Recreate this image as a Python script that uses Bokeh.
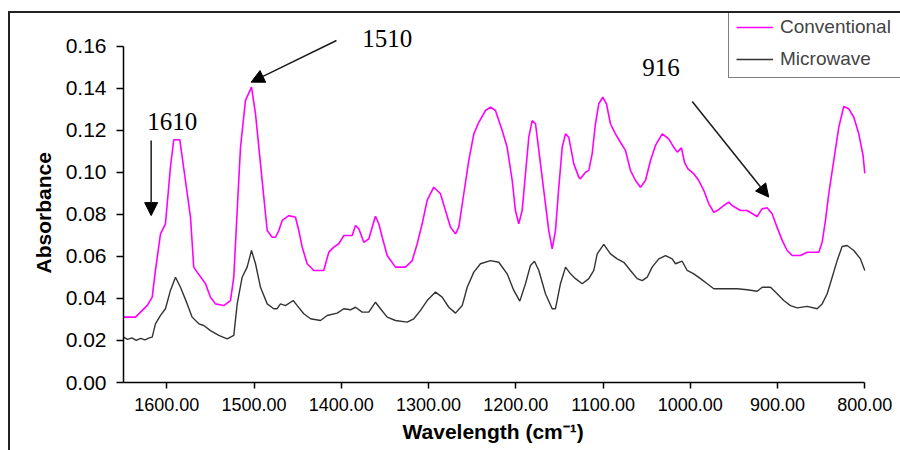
from bokeh.plotting import figure
from bokeh.models import (Range1d, NumeralTickFormatter, FixedTicker, Label, Arrow,
                          NormalHead, Title)
from bokeh.embed import file_html
from bokeh.resources import INLINE

# ---- data (wavenumber cm^-1, absorbance) ----
conv_wn = [1649.6, 1635.9, 1622.5, 1616.7, 1613.0, 1607.2, 1601.5, 1595.8, 1592.0, 1585.1,
           1578.6, 1572.8, 1569.1, 1565.2, 1555.6, 1549.9, 1544.2, 1534.7, 1527.0, 1523.2,
           1519.3, 1515.5, 1509.8, 1502.9, 1498.3, 1492.6, 1488.8, 1484.9, 1479.2, 1475.4,
           1471.6, 1467.7, 1460.2, 1452.5, 1448.7, 1444.8, 1439.1, 1431.5, 1420.1, 1414.3,
           1408.6, 1402.9, 1397.1, 1387.5, 1383.7, 1379.9, 1374.2, 1368.5, 1364.6, 1360.8,
           1357.0, 1353.1, 1347.4, 1337.9, 1326.4, 1318.7, 1313.0, 1307.3, 1301.6, 1294.0,
           1286.3, 1280.6, 1274.8, 1269.1, 1265.3, 1259.6, 1253.9, 1248.1, 1242.4, 1234.7,
           1229.0, 1223.3, 1215.6, 1209.9, 1204.1, 1200.4, 1196.6, 1192.7, 1188.9, 1185.1,
           1181.2, 1177.4, 1173.6, 1167.9, 1162.2, 1158.3, 1154.5, 1150.7, 1146.8, 1143.0,
           1139.3, 1133.5, 1127.8, 1125.9, 1120.1, 1116.3, 1112.5, 1108.7, 1104.9, 1100.3,
           1096.1, 1091.5, 1085.8, 1080.1, 1074.3, 1068.6, 1062.8, 1057.1, 1051.4, 1045.6,
           1039.9, 1032.2, 1024.7, 1018.9, 1015.0, 1010.1, 1006.7, 1002.9, 996.0, 990.3,
           984.5, 978.8, 973.1, 969.2, 961.6, 955.9, 952.1, 942.5, 934.9, 923.4,
           917.8, 912.0, 906.2, 900.6, 894.7, 889.0, 883.2, 873.7, 866.0, 860.3,
           852.7, 848.9, 845.1, 841.3, 835.6, 829.8, 824.1, 818.4, 812.6, 806.9,
           802.0, 800.0]
conv_abs = [0.0311, 0.0311, 0.0366, 0.0406, 0.0533, 0.0707, 0.0755, 0.1024, 0.1155, 0.1155,
            0.0961, 0.0786, 0.0549, 0.0525, 0.0470, 0.0406, 0.0374, 0.0366, 0.0390, 0.0501,
            0.0818, 0.1119, 0.1342, 0.1405, 0.1278, 0.1040, 0.0882, 0.0723, 0.0691, 0.0691,
            0.0723, 0.0771, 0.0794, 0.0786, 0.0723, 0.0644, 0.0565, 0.0533, 0.0533, 0.0620,
            0.0644, 0.0660, 0.0699, 0.0699, 0.0747, 0.0731, 0.0667, 0.0683, 0.0739, 0.0791,
            0.0755, 0.0691, 0.0604, 0.0549, 0.0549, 0.0580, 0.0660, 0.0755, 0.0866, 0.0929,
            0.0898, 0.0818, 0.0739, 0.0707, 0.0739, 0.0898, 0.1056, 0.1183, 0.1238, 0.1294,
            0.1310, 0.1294, 0.1199, 0.1119, 0.0961, 0.0818, 0.0755, 0.0818, 0.0993, 0.1167,
            0.1246, 0.1231, 0.1104, 0.0913, 0.0723, 0.0636, 0.0723, 0.0929, 0.1119, 0.1183,
            0.1167, 0.1040, 0.0977, 0.0969, 0.1000, 0.1009, 0.1088, 0.1231, 0.1326, 0.1357,
            0.1326, 0.1231, 0.1183, 0.1143, 0.1104, 0.1009, 0.0961, 0.0929, 0.0961, 0.1056,
            0.1128, 0.1183, 0.1159, 0.1119, 0.1096, 0.1116, 0.1048, 0.1017, 0.0993, 0.0961,
            0.0913, 0.0850, 0.0810, 0.0818, 0.0842, 0.0858, 0.0842, 0.0818, 0.0818, 0.0790,
            0.0826, 0.0831, 0.0803, 0.0739, 0.0676, 0.0628, 0.0604, 0.0604, 0.0620, 0.0620,
            0.0620, 0.0667, 0.0771, 0.0898, 0.1056, 0.1215, 0.1313, 0.1302, 0.1262, 0.1183,
            0.1080, 0.0995]

micro_wn = [1649.6, 1645.0, 1640.0, 1635.0, 1630.0, 1625.0, 1620.0, 1616.7, 1613.0, 1607.2,
            1601.5, 1595.8, 1590.0, 1584.3, 1576.6, 1570.9, 1563.3, 1557.6, 1549.9, 1540.4,
            1530.8, 1523.2, 1519.3, 1513.6, 1507.9, 1502.9, 1498.3, 1492.6, 1484.9, 1477.4,
            1473.5, 1469.7, 1464.0, 1455.1, 1450.5, 1443.0, 1435.3, 1423.8, 1416.2, 1404.7,
            1397.1, 1389.5, 1383.7, 1376.1, 1368.5, 1360.8, 1355.1, 1347.4, 1337.9, 1324.5,
            1316.9, 1309.2, 1301.6, 1292.0, 1284.4, 1276.8, 1269.1, 1261.4, 1255.7, 1248.1,
            1240.5, 1229.0, 1219.5, 1209.9, 1202.3, 1195.4, 1188.9, 1183.2, 1178.6, 1173.6,
            1166.0, 1158.3, 1154.5, 1148.8, 1143.0, 1137.3, 1131.6, 1123.9, 1116.3, 1110.6,
            1106.7, 1099.2, 1091.5, 1083.8, 1076.2, 1068.6, 1060.9, 1055.1, 1049.4, 1043.7,
            1036.1, 1028.4, 1020.8, 1017.0, 1009.3, 1003.6, 996.0, 988.3, 980.6, 973.1,
            954.0, 946.3, 934.8, 923.3, 917.6, 908.1, 900.4, 892.9, 885.2, 877.5,
            866.0, 854.6, 848.9, 843.1, 837.4, 831.7, 826.0, 820.2, 812.6, 805.0, 800.0]
micro_abs = [0.0216, 0.0205, 0.0212, 0.0200, 0.0210, 0.0203, 0.0212, 0.0216, 0.0279, 0.0319,
             0.0351, 0.0438, 0.0501, 0.0453, 0.0374, 0.0311, 0.0279, 0.0271, 0.0247, 0.0224,
             0.0208, 0.0224, 0.0374, 0.0501, 0.0549, 0.0628, 0.0565, 0.0453, 0.0374, 0.0351,
             0.0351, 0.0374, 0.0366, 0.0390, 0.0366, 0.0327, 0.0303, 0.0295, 0.0319, 0.0330,
             0.0351, 0.0346, 0.0358, 0.0335, 0.0335, 0.0382, 0.0351, 0.0311, 0.0295, 0.0287,
             0.0303, 0.0343, 0.0390, 0.0430, 0.0406, 0.0358, 0.0330, 0.0366, 0.0453, 0.0525,
             0.0565, 0.0580, 0.0572, 0.0517, 0.0438, 0.0387, 0.0470, 0.0557, 0.0577, 0.0533,
             0.0422, 0.0351, 0.0351, 0.0470, 0.0549, 0.0517, 0.0494, 0.0470, 0.0494, 0.0533,
             0.0612, 0.0657, 0.0612, 0.0588, 0.0572, 0.0533, 0.0494, 0.0485, 0.0501, 0.0549,
             0.0588, 0.0604, 0.0588, 0.0565, 0.0577, 0.0533, 0.0517, 0.0494, 0.0470, 0.0446,
             0.0446, 0.0446, 0.0441, 0.0434, 0.0453, 0.0453, 0.0422, 0.0390, 0.0366, 0.0355,
             0.0362, 0.0351, 0.0374, 0.0422, 0.0501, 0.0580, 0.0647, 0.0652, 0.0628, 0.0588, 0.0533]

x_ticks = [1600, 1500, 1400, 1300, 1200, 1100, 1000, 900, 800]
y_ticks = [0.00, 0.02, 0.04, 0.06, 0.08, 0.10, 0.12, 0.14, 0.16]

# annotation labels: (text, x, y)
peak_labels = [("1610", 1622.5, 0.1242), ("1510", 1376.1, 0.1638), ("916", 1055.1, 0.1499)]
# arrows: (x_start, y_start, x_end, y_end)
peak_arrows = [(1617.9, 0.1151, 1617.9, 0.0794),
               (1405.5, 0.1627, 1503.3, 0.1429),
               (997.8, 0.1337, 910.1, 0.0882)]

p = figure(width=890, height=437, output_backend="svg", toolbar_location=None,
           x_range=Range1d(1649.6, 759.1), y_range=Range1d(0, 0.17555),
           min_border_left=113, min_border_right=0, min_border_top=0, min_border_bottom=68)
# outer chart frame (left and top edges show, the rest runs off the page)
p.margin = (13, 0, 0, 10)
p.styles = {"outline": "2px solid #222222"}

p.xgrid.visible = False
p.ygrid.visible = False
p.outline_line_color = None
p.background_fill_color = "white"
p.border_fill_color = "white"

p.line(conv_wn, conv_abs, line_color="#FF00FF", line_width=1.6, legend_label="Conventional")
p.line(micro_wn, micro_abs, line_color="#333333", line_width=1.4, legend_label="Microwave")

for ax in (p.xaxis[0], p.yaxis[0]):
    ax.axis_line_color = "black"
    ax.axis_line_width = 1.5
    ax.major_tick_line_color = "black"
    ax.major_tick_line_width = 1.5
    ax.major_tick_in = 0
    ax.minor_tick_line_color = None
    ax.major_label_text_font = "Liberation Sans"
    ax.major_label_text_color = "black"
    ax.formatter = NumeralTickFormatter(format="0.00")

p.xaxis.ticker = FixedTicker(ticks=x_ticks)
p.xaxis.bounds = (800, 1649.6)
p.xaxis.major_tick_out = 6
p.xaxis.major_label_standoff = 9
p.xaxis.major_label_text_font_size = "18px"

p.yaxis.ticker = FixedTicker(ticks=y_ticks)
p.yaxis.bounds = (0, 0.16)
p.yaxis.major_tick_out = 7
p.yaxis.major_label_standoff = 10
p.yaxis.major_label_text_font_size = "21px"

# axis titles, placed along the axis extent
p.add_layout(Title(text="Absorbance", align="left", offset=109, standoff=16,
                   text_font="Liberation Sans", text_font_style="bold",
                   text_font_size="21px", text_color="black"), "left")
p.add_layout(Title(text="Wavelength (cm\u207b\u00b9)", align="left", offset=279, standoff=8,
                   text_font="Liberation Sans", text_font_style="bold",
                   text_font_size="21px", text_color="black"), "below")

for txt, x, y in peak_labels:
    p.add_layout(Label(x=x, y=y, text=txt, text_font="Liberation Serif",
                       text_font_size="25px", text_color="black",
                       text_align="left", text_baseline="alphabetic"))

for xs, ys, xe, ye in peak_arrows:
    p.add_layout(Arrow(x_start=xs, y_start=ys, x_end=xe, y_end=ye,
                       line_color="#1a1a1a", line_width=1.5,
                       end=NormalHead(size=13, fill_color="black", line_color="black")))

leg = p.legend[0]
leg.location = (605, 304)
leg.margin = 0
leg.padding = 7
leg.spacing = 10
leg.glyph_width = 37
leg.glyph_height = 20
leg.label_height = 20
leg.label_standoff = 7
leg.label_width = 140
leg.label_text_font = "Liberation Sans"
leg.label_text_font_size = "19px"
leg.border_line_color = "black"
leg.border_line_width = 1.5
leg.background_fill_color = "white"
leg.background_fill_alpha = 1

open("out.html", "w").write(file_html(p, INLINE))
